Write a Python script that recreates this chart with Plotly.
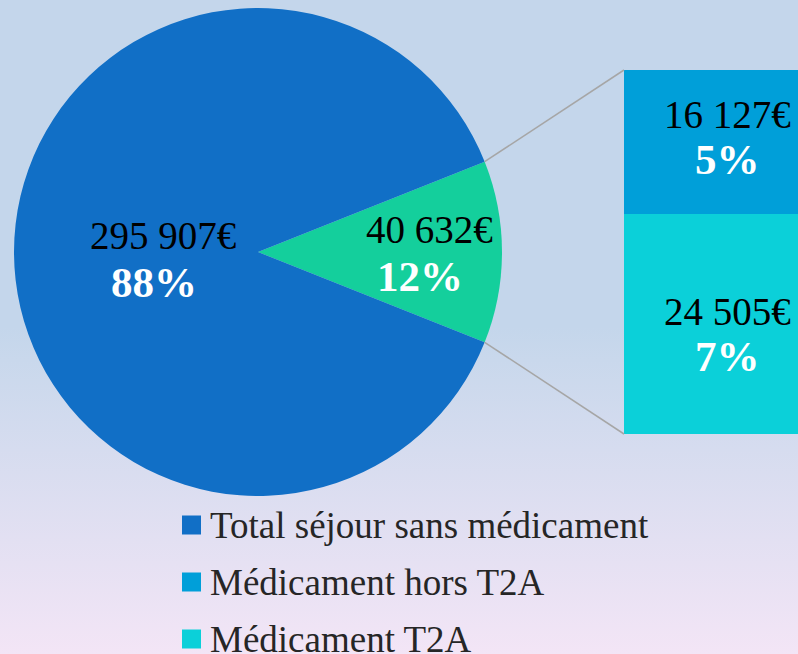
import math
import plotly.graph_objects as go

# ---------------- data ----------------
pie_labels = ["Médicament", "Total séjour sans médicament"]
pie_values = [40632, 295907]
pie_colors = ["#14cf9c", "#116fc6"]

bar_labels = ["Médicament T2A", "Médicament hors T2A"]   # bottom -> top
bar_values = [24505, 16127]
bar_colors = ["#0bd0d9", "#009fd9"]

legend_labels = ["Total séjour sans médicament", "Médicament hors T2A", "Médicament T2A"]
legend_colors = ["#116fc6", "#009fd9", "#0bd0d9"]

total = sum(pie_values)

# ---------------- layout geometry ----------------
W, H = 798, 654
FONT = "Liberation Serif, Times New Roman, serif"
MONEY_SIZE, PCT_SIZE = 39, 43

def px2x(px):
    return px / W

def px2y(py):
    return 1 - py / H

pie_left, pie_top, pie_size = 14, 8, 488
pie_dom_x = [px2x(pie_left), px2x(pie_left + pie_size)]
pie_dom_y = [px2y(pie_top + pie_size), px2y(pie_top)]
cx, cy, r = pie_left + pie_size / 2, pie_top + pie_size / 2, pie_size / 2

bar_dom_x = [px2x(624), 1.0]
bar_dom_y = [px2y(434), px2y(70)]
bar_px_width = 206  # full bar width (extends past right edge)
bar_range_x = [-0.5, -0.5 + (W - 624) / bar_px_width]

def money(v):
    return f"{v:,}".replace(",", " ") + "€"

def pct(v):
    return f"{round(v / total * 100)}%"

fig = go.Figure()

# background gradient
fig.add_trace(go.Scatter(
    x=[-0.01, 1.01, 1.01, -0.01, -0.01], y=[-0.01, -0.01, 1.01, 1.01, -0.01],
    fill="toself", mode="lines", line=dict(width=0),
    fillgradient=dict(type="vertical", start=0, stop=1,
                      colorscale=[[0, "#f3e5f6"], [0.45, "#c9d8ec"], [0.5, "#c4d6eb"], [1, "#c4d6eb"]]),
    hoverinfo="skip", showlegend=False, xaxis="x", yaxis="y"))

# pie
first_frac = pie_values[0] / total
rotation = 90 - first_frac * 360 / 2
fig.add_trace(go.Pie(
    labels=pie_labels, values=pie_values, sort=False, direction="clockwise",
    rotation=rotation, marker=dict(colors=pie_colors, line=dict(width=0)),
    textinfo="none", hoverinfo="label+value+percent", showlegend=False,
    domain=dict(x=pie_dom_x, y=pie_dom_y)))

# stacked bar
for lab, val, col in zip(bar_labels, bar_values, bar_colors):
    fig.add_trace(go.Bar(
        x=[0], y=[val], name=lab, width=1, marker=dict(color=col, line=dict(width=0)),
        xaxis="x2", yaxis="y2", showlegend=False, hoverinfo="name+y"))

annotations = []
shapes = []

# pie labels
half = first_frac * math.pi  # half-angle of first slice (radians)
mid_angles = [0.0, math.pi]  # first slice centered at 3 o'clock, second opposite
label_r = [0.69, 0.40]
label_dy = [0, -6]
for val, ang, k, dy in zip(pie_values, mid_angles, label_r, label_dy):
    lx = cx + k * r * math.cos(ang)
    ly = cy - k * r * math.sin(ang)
    annotations.append(dict(x=px2x(lx + 3), y=px2y(ly), xref="paper", yref="paper",
                            xanchor="center", yanchor="middle",
                            text=money(val), showarrow=False, yshift=23 + dy,
                            font=dict(family=FONT, size=MONEY_SIZE, color="#000000")))
    annotations.append(dict(x=px2x(lx - 6), y=px2y(ly), xref="paper", yref="paper",
                            xanchor="center", yanchor="middle",
                            text=f"<b>{pct(val)}</b>", showarrow=False, yshift=-24 + dy,
                            font=dict(family=FONT, size=PCT_SIZE, color="#ffffff")))

# bar labels
bar_block_shift = [-10, 5]  # bottom, top
cum = 0
for val, bs in zip(bar_values, bar_block_shift):
    midv = cum + val / 2
    cum += val
    annotations.append(dict(x=0, y=midv, xref="x2", yref="y2", text=money(val),
                            xanchor="center", yanchor="middle",
                            showarrow=False, yshift=bs + 23,
                            font=dict(family=FONT, size=MONEY_SIZE, color="#000000")))
    annotations.append(dict(x=0, y=midv, xref="x2", yref="y2", text=f"<b>{pct(val)}</b>",
                            xanchor="center", yanchor="middle",
                            showarrow=False, yshift=bs - 22,
                            font=dict(family=FONT, size=PCT_SIZE, color="#ffffff")))

# connector lines from slice edges to bar corners
for sgn in (1, -1):
    ex = cx + r * math.cos(half)
    ey = cy - sgn * r * math.sin(half)
    shapes.append(dict(type="line", xref="paper", yref="paper",
                       x0=px2x(ex), y0=px2y(ey), x1=bar_dom_x[0],
                       y1=bar_dom_y[1] if sgn == 1 else bar_dom_y[0],
                       line=dict(color="#a6a6a6", width=1.5)))

# legend
leg_x, leg_y0, leg_dy, sq = 182, 525, 57, 19
for i, (lab, col) in enumerate(zip(legend_labels, legend_colors)):
    yc = leg_y0 + i * leg_dy
    shapes.append(dict(type="rect", xref="paper", yref="paper",
                       x0=px2x(leg_x), x1=px2x(leg_x + sq),
                       y0=px2y(yc + sq / 2), y1=px2y(yc - sq / 2),
                       fillcolor=col, line=dict(width=0)))
    annotations.append(dict(x=px2x(leg_x + sq + 7), y=px2y(yc), xref="paper", yref="paper",
                            xanchor="left", yanchor="middle", text=lab, showarrow=False,
                            font=dict(family=FONT, size=37, color="#262626")))

fig.update_layout(
    width=W, height=H, margin=dict(l=0, r=0, t=0, b=0),
    paper_bgcolor="#c4d6eb", plot_bgcolor="rgba(0,0,0,0)",
    barmode="stack", showlegend=False,
    xaxis=dict(domain=[0, 1], range=[0, 1], visible=False, fixedrange=True),
    yaxis=dict(domain=[0, 1], range=[0, 1], visible=False, fixedrange=True),
    xaxis2=dict(domain=bar_dom_x, range=bar_range_x, visible=False, anchor="y2"),
    yaxis2=dict(domain=bar_dom_y, range=[0, sum(bar_values)], visible=False, anchor="x2"),
    annotations=annotations, shapes=shapes,
)

fig.write_html("out.html", config={"displayModeBar": False},
               post_script="document.body.style.margin='0';document.body.style.overflow='hidden';")
